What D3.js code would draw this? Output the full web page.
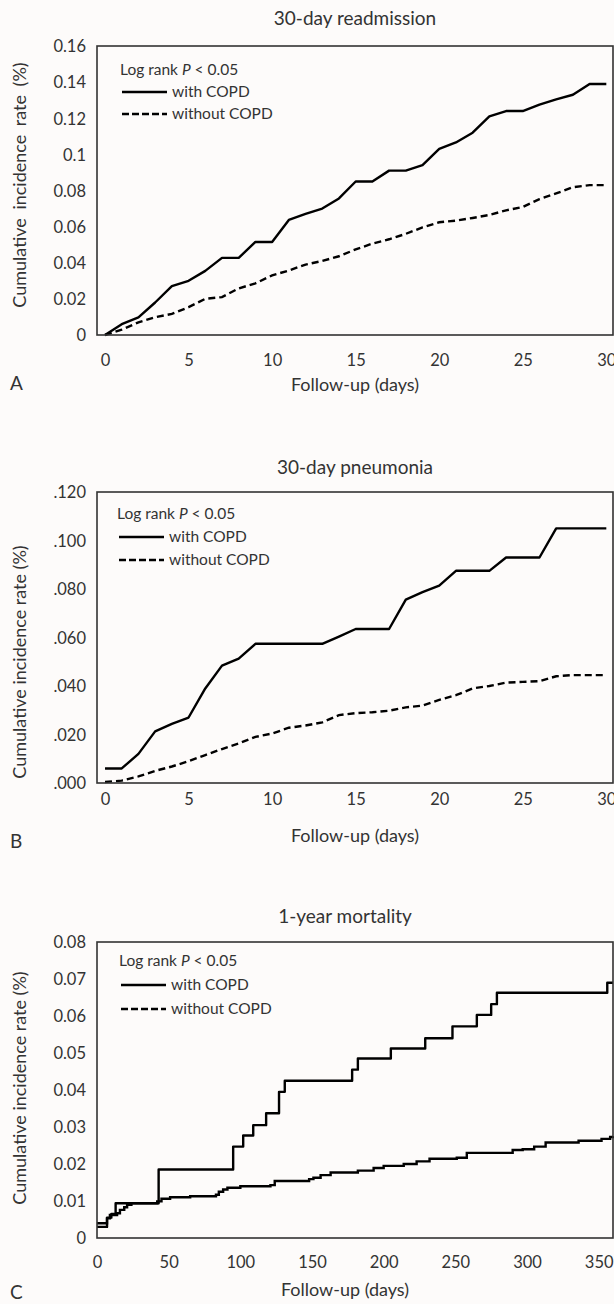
<!DOCTYPE html>
<html><head><meta charset="utf-8">
<script src="https://cdn.jsdelivr.net/npm/d3@7"></script>
<style>
body{margin:0;background:#fdfbfa;}
svg text{font-family:Lato,"Open Sans",sans-serif;fill:#333;}
</style>
</head><body>
<svg id="chart" width="614" height="1304"></svg>
<script>
// ---------- DATA ----------
const daysShort = d3.range(0, 31);
const readmWith    = [0,0.006,0.0098,0.018,0.027,0.030,0.0355,0.0427,0.0427,0.0515,0.0515,0.0637,0.067,0.070,0.0756,0.085,0.085,0.091,0.091,0.094,0.103,0.1066,0.112,0.121,0.124,0.124,0.1276,0.1305,0.133,0.139,0.139];
const readmWithout = [0,0.003,0.007,0.0098,0.0117,0.0154,0.020,0.021,0.0258,0.0286,0.033,0.0357,0.039,0.041,0.0436,0.0474,0.0506,0.053,0.056,0.0596,0.0624,0.0633,0.0648,0.0665,0.069,0.0709,0.0752,0.0784,0.0818,0.083,0.083];
const pneuWith     = [0.006,0.006,0.012,0.0213,0.0244,0.027,0.039,0.0484,0.0513,0.0574,0.0574,0.0574,0.0574,0.0574,0.0604,0.0635,0.0635,0.0635,0.0756,0.0787,0.0814,0.0875,0.0875,0.0875,0.093,0.093,0.093,0.105,0.105,0.105,0.105];
const pneuWithout  = [0.0004,0.001,0.0027,0.005,0.0068,0.009,0.0115,0.014,0.0163,0.019,0.0204,0.0228,0.0237,0.025,0.028,0.0288,0.0292,0.0298,0.0312,0.0319,0.0343,0.0362,0.039,0.040,0.0414,0.0417,0.042,0.044,0.0445,0.0445,0.0445];
// 1-year mortality: [day, cumulative incidence] step points
const mortWith = [[0,0.003],[7,0.0055],[10,0.0065],[13,0.0094],[43,0.0185],[95,0.0247],[102,0.0277],[109,0.0305],[118,0.0337],[127,0.0395],[131,0.0425],[178,0.0455],[182,0.0485],[205,0.0512],[229,0.054],[248,0.0572],[265,0.0603],[275,0.0632],[279,0.0663],[356,0.069],[360,0.069]];
const mortWithout = [[0,0.004],[7,0.0053],[9,0.0062],[14,0.0067],[16,0.0076],[19,0.0083],[21,0.009],[24,0.0094],[42,0.0099],[45,0.0106],[51,0.011],[65,0.0113],[83,0.0117],[85,0.0125],[88,0.0131],[91,0.0136],[100,0.014],[121,0.0143],[124,0.0154],[148,0.0159],[151,0.0163],[156,0.017],[163,0.0177],[182,0.0182],[193,0.0189],[200,0.0195],[214,0.020],[223,0.0207],[232,0.0214],[251,0.0217],[258,0.023],[290,0.0238],[297,0.024],[305,0.0247],[313,0.0258],[336,0.0263],[352,0.0268],[358,0.0273],[360,0.0275]];

const yTicksA = [0,0.02,0.04,0.06,0.08,0.10,0.12,0.14,0.16];
const yLabelsA = ["0","0.02","0.04","0.06","0.08","0.1","0.12","0.14","0.16"];
const yTicksB = [0,0.02,0.04,0.06,0.08,0.10,0.12];
const yLabelsB = [".000",".020",".040",".060",".080",".100",".120"];
const yTicksC = [0,0.01,0.02,0.03,0.04,0.05,0.06,0.07,0.08];
const yLabelsC = ["0","0.01","0.02","0.03","0.04","0.05","0.06","0.07","0.08"];
const xTicksShort = [0,5,10,15,20,25,30];
const xTicksYear = [0,50,100,150,200,250,300,350];

const titles = ["30-day readmission","30-day pneumonia","1-year mortality"];
const panelLetters = ["A","B","C"];
const seriesNames = ["with COPD","without COPD"];
const yTitle = "Cumulative incidence rate (%)";
const xTitle = "Follow-up (days)";

// ---------- DRAW ----------
const svg = d3.select("#chart");
const L = 97, R = 613;

function panel(p) {
  const g = svg.append("g");
  const x = d3.scaleLinear().domain(p.xDomain).range([L, R]);
  const y = d3.scaleLinear().domain([p.yTicks[0], p.yTicks[p.yTicks.length-1]]).range([p.bottom, p.top]);

  const ya = g.append("g").attr("transform", `translate(${L},0)`)
    .call(d3.axisLeft(y).tickValues(p.yTicks).tickFormat((d,i)=>p.yLabels[i]).tickSize(0).tickPadding(11));
  ya.select(".domain").remove();
  ya.attr("font-family", null).attr("font-size", null);
  ya.selectAll("text").attr("font-size", 16.5).attr("dy", "0.35em");

  const xa = g.append("g").attr("transform", `translate(0,${p.bottom})`)
    .call(d3.axisBottom(x).tickValues(p.xTicks).tickSize(0).tickPadding(p.xPad));
  xa.select(".domain").remove();
  xa.attr("font-family", null).attr("font-size", null);
  xa.selectAll("text").attr("font-size", 16.5);

  const line = d3.line().x(d=>x(d[0])).y(d=>y(d[1])).curve(p.curve);
  g.append("path").datum(p.s1).attr("d", line).attr("fill","none").attr("stroke","#000").attr("stroke-width",2.4).attr("stroke-linejoin","round");
  g.append("path").datum(p.s2).attr("d", line).attr("fill","none").attr("stroke","#000").attr("stroke-width",2.4)
    .attr("stroke-dasharray", p.dash2 ? "7,4" : null);

  g.append("rect").attr("x", L).attr("y", p.top).attr("width", R-L).attr("height", p.bottom-p.top)
    .attr("fill","none").attr("stroke","#333").attr("stroke-width",1.6);

  g.append("text").attr("x", p.titleX).attr("y", p.titleY).attr("text-anchor","middle").attr("dy","0.35em")
    .attr("font-size", 19).text(p.title);
  g.append("text").attr("x", p.xTitleX).attr("y", p.xTitleY).attr("text-anchor","middle").attr("dy","0.35em")
    .attr("font-size", 18).text(xTitle);
  g.append("text").attr("transform", `translate(20,${p.yTitleY}) rotate(-90)`).attr("text-anchor","middle").attr("dy","0.35em")
    .attr("font-size", 18).attr("word-spacing", p.wordSpacing || 0).text(yTitle);
  g.append("text").attr("x", 10).attr("y", p.letterY).attr("dy","0.35em").attr("font-size", 19).text(p.letter);

  const lg = g.append("g");
  const t = lg.append("text").attr("x", p.legX).attr("y", p.legY[0]).attr("dy","0.35em").attr("font-size",15.5);
  t.append("tspan").text("Log rank ");
  t.append("tspan").attr("font-style","italic").text("P");
  t.append("tspan").text(" < 0.05");
  [1,2].forEach(k=>{
    lg.append("line").attr("x1", p.legX+2).attr("x2", p.legX+47).attr("y1", p.legY[k]).attr("y2", p.legY[k])
      .attr("stroke","#000").attr("stroke-width",2.4).attr("stroke-dasharray", k===2 ? "7,3" : null);
    lg.append("text").attr("x", p.legX+52).attr("y", p.legY[k]).attr("dy","0.35em").attr("font-size",15.5).text(seriesNames[k-1]);
  });
}

panel({
  title: titles[0], letter: panelLetters[0],
  xDomain: [-0.48, 30.4], xTicks: xTicksShort, xPad: 19,
  yTicks: yTicksA, yLabels: yLabelsA, top: 46, bottom: 335,
  s1: daysShort.map((d,i)=>[d, readmWith[i]]), s2: daysShort.map((d,i)=>[d, readmWithout[i]]),
  curve: d3.curveLinear, dash2: true,
  titleX: 355, titleY: 18, xTitleX: 355, xTitleY: 385, yTitleY: 185, letterY: 383, wordSpacing: 4,
  legX: 120, legY: [70, 92, 114]
});
panel({
  title: titles[1], letter: panelLetters[1],
  xDomain: [-0.48, 30.4], xTicks: xTicksShort, xPad: 10,
  yTicks: yTicksB, yLabels: yLabelsB, top: 492, bottom: 783,
  s1: daysShort.map((d,i)=>[d, pneuWith[i]]), s2: daysShort.map((d,i)=>[d, pneuWithout[i]]),
  curve: d3.curveLinear, dash2: true,
  titleX: 355, titleY: 467, xTitleX: 355, xTitleY: 836, yTitleY: 662, letterY: 841,
  legX: 117, legY: [514, 537, 560]
});
panel({
  title: titles[2], letter: panelLetters[2],
  xDomain: [0, 360], xTicks: xTicksYear, xPad: 18,
  yTicks: yTicksC, yLabels: yLabelsC, top: 942, bottom: 1238,
  s1: mortWith, s2: mortWithout,
  curve: d3.curveStepAfter, dash2: false,
  titleX: 345, titleY: 916, xTitleX: 345, xTitleY: 1290, yTitleY: 1088, letterY: 1292,
  legX: 119, legY: [961, 985, 1009]
});
</script>
</body></html>
